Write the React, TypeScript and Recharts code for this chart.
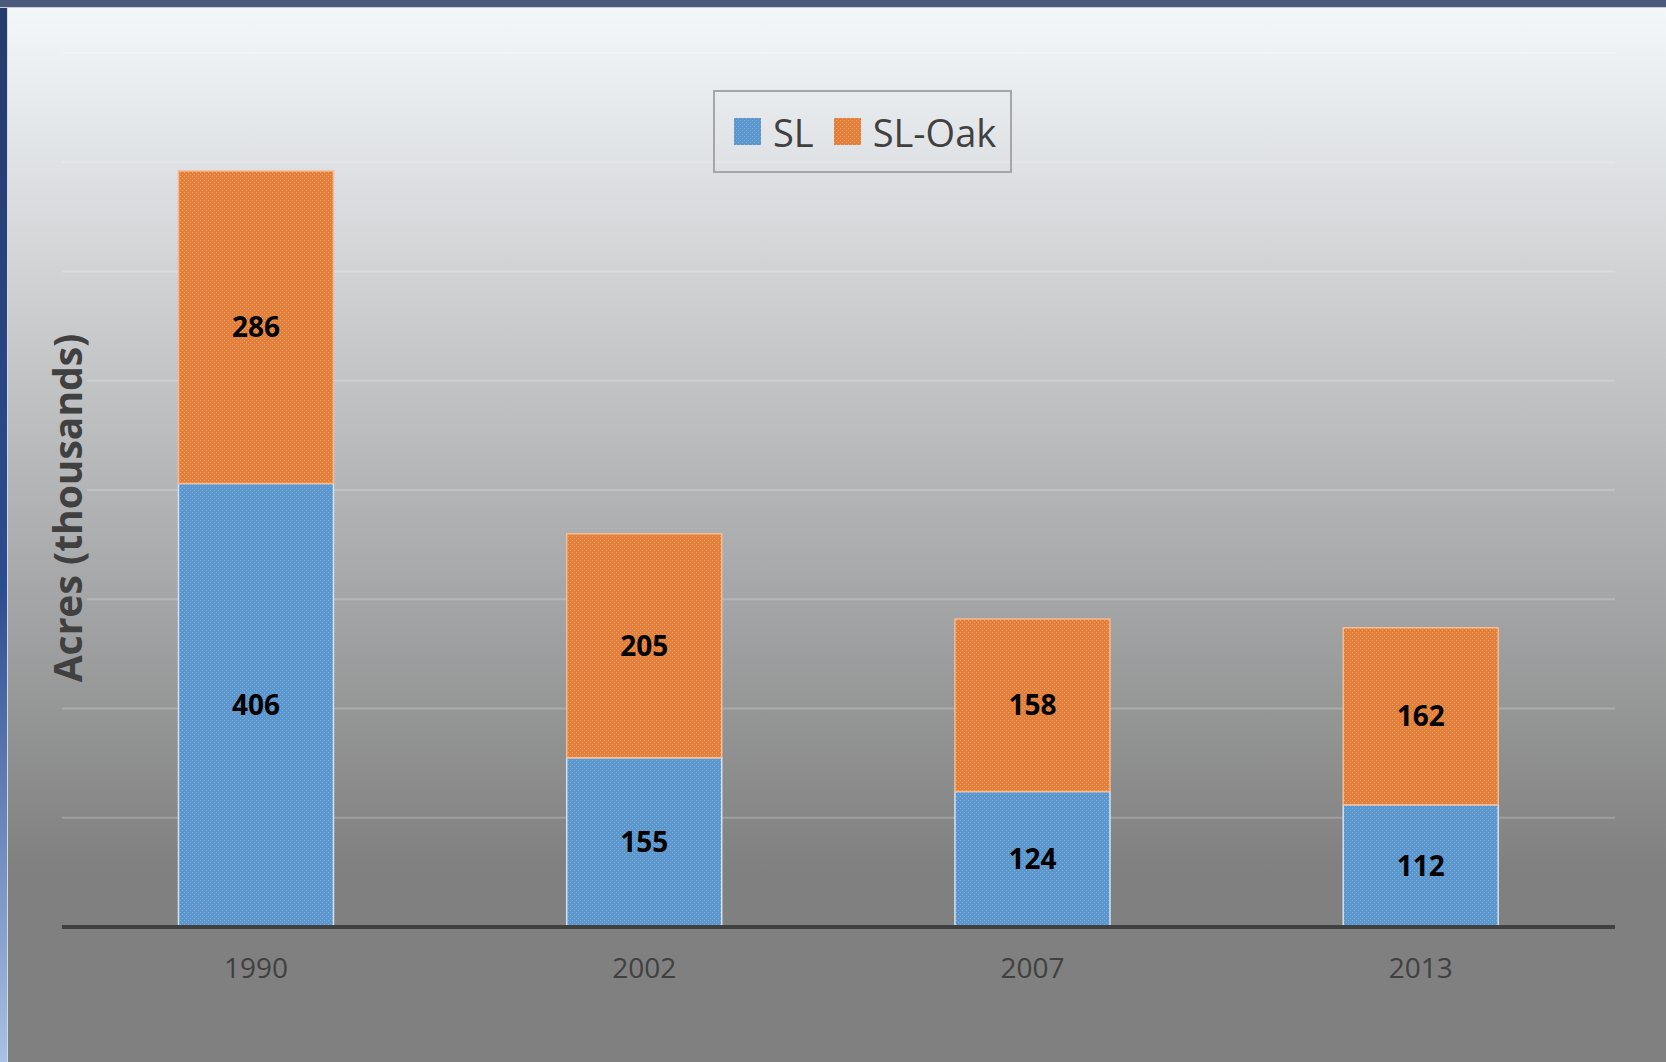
import * as React from "react";
import {
  BarChart,
  Bar,
  XAxis,
  YAxis,
  CartesianGrid,
  Legend,
  LabelList,
} from "recharts";

const years = ["1990", "2002", "2007", "2013"];
const slAcres = [406, 155, 124, 112];
const slOakAcres = [286, 205, 158, 162];
const yTicks = [0, 100, 200, 300, 400, 500, 600, 700, 800];

const FONT = "'Open Sans', 'Noto Sans', sans-serif";

const chartData = years.map((year, i) => ({
  year,
  sl: slAcres[i],
  slOak: slOakAcres[i],
}));

// Excel-ish legend in a grey box
function LegendBox(props: any) {
  const { payload } = props;
  return (
    <div
      style={{
        boxSizing: "border-box",
        width: "100%",
        height: "100%",
        border: "2px solid #a6a6a6",
        display: "flex",
        alignItems: "center",
        paddingLeft: 19,
        fontFamily: FONT,
        fontSize: 38,
        color: "#404040",
        whiteSpace: "nowrap",
      }}
    >
      {payload.map((entry: any) => (
        <div
          key={entry.value}
          style={{ display: "flex", alignItems: "center", marginRight: 20, flexShrink: 0 }}
        >
          <svg width={27} height={27} style={{ marginRight: 12 }}>
            <rect width={27} height={27} fill={entry.color} />
          </svg>
          <span style={{ lineHeight: 1 }}>{entry.value}</span>
        </div>
      ))}
    </div>
  );
}

// rotated axis title, painted over the grid with the same background fade
function AxisTitle() {
  const cx = 66;
  const cy = 508;
  return (
    <svg
      width={1666}
      height={1062}
      style={{ position: "absolute", left: 0, top: 0, pointerEvents: "none" }}
    >
      <defs>
        <linearGradient id="titleFade" gradientUnits="userSpaceOnUse" x1={0} y1={8} x2={0} y2={870}>
          <stop offset={0} stopColor="#f4f7fa" />
          <stop offset={1} stopColor="#808080" />
        </linearGradient>
      </defs>
      <rect x={cx - 21} y={cy - 180} width={42} height={360} fill="url(#titleFade)" />
      <text
        x={cx}
        y={cy}
        transform={`rotate(-90, ${cx}, ${cy})`}
        textAnchor="middle"
        dominantBaseline="central"
        fill="#404040"
        fontFamily={FONT}
        fontWeight={700}
        fontSize={39}
      >
        Acres (thousands)
      </text>
    </svg>
  );
}

export default function App() {
  return (
    <div
      style={{
        position: "absolute",
        left: 0,
        top: 0,
        width: 1666,
        height: 1062,
        overflow: "hidden",
        background: "linear-gradient(to bottom, #f4f7fa 8px, #808080 870px)",
      }}
    >
      <div
        style={{
          position: "absolute",
          left: 0,
          top: 0,
          width: 1666,
          height: 7,
          background: "#4b5a7c",
          borderBottom: "1px solid #c8cdd5",
        }}
      />
      <div
        style={{
          position: "absolute",
          left: 0,
          top: 8,
          width: 7,
          height: 1054,
          background: "linear-gradient(to bottom, #243b6c, #2c4c90 55%, #a9c1e4)",
          borderRight: "1px solid #d3d9e1",
        }}
      />
      <div style={{ position: "absolute", left: 0, top: 0 }}>
        <BarChart
          width={1666}
          height={1062}
          data={chartData}
          margin={{ top: 53, right: 51, left: 61, bottom: 75 }}
          barCategoryGap="30%"
        >
          <defs>
            <pattern id="dotBlue" width={4} height={4} patternUnits="userSpaceOnUse">
              <rect width={4} height={4} fill="#5b96cd" />
              <rect x={0} y={0} width={1} height={1} fill="#80b0dd" />
              <rect x={2} y={2} width={1} height={1} fill="#80b0dd" />
            </pattern>
            <pattern id="dotOrange" width={4} height={4} patternUnits="userSpaceOnUse">
              <rect width={4} height={4} fill="#e2803b" />
              <rect x={0} y={0} width={1} height={1} fill="#f2a26c" />
              <rect x={2} y={2} width={1} height={1} fill="#f2a26c" />
            </pattern>
          </defs>
          <CartesianGrid
            vertical={false}
            stroke="#ffffff"
            strokeOpacity={0.2}
            strokeWidth={2}
          />
          <XAxis
            dataKey="year"
            height={60}
            tickLine={false}
            tickMargin={25}
            axisLine={{ stroke: "#404040", strokeWidth: 4 }}
            tick={{ fill: "#404040", fontSize: 28, fontFamily: FONT }}
          />
          <YAxis
            width={1}
            domain={[0, 800]}
            ticks={yTicks}
            interval={0}
            tick={() => <g />}
            tickLine={false}
            axisLine={false}
          />
          <Legend
            verticalAlign="middle"
            align="center"
            content={LegendBox}
            wrapperStyle={{ left: 713, top: 90, width: 299, height: 83 }}
          />
          <Bar
            dataKey="sl"
            name="SL"
            stackId="a"
            fill="url(#dotBlue)"
            stroke="#d2e2f3"
            strokeWidth={1.5}
            isAnimationActive={false}
          >
            <LabelList
              dataKey="sl"
              position="center"
              fill="#000"
              fontSize={28}
              fontWeight={700}
              fontFamily={FONT}
            />
          </Bar>
          <Bar
            dataKey="slOak"
            name="SL-Oak"
            stackId="a"
            fill="url(#dotOrange)"
            stroke="#f5bb92"
            strokeWidth={1.5}
            isAnimationActive={false}
          >
            <LabelList
              dataKey="slOak"
              position="center"
              fill="#000"
              fontSize={28}
              fontWeight={700}
              fontFamily={FONT}
            />
          </Bar>
        </BarChart>
      </div>
      <AxisTitle />
    </div>
  );
}
